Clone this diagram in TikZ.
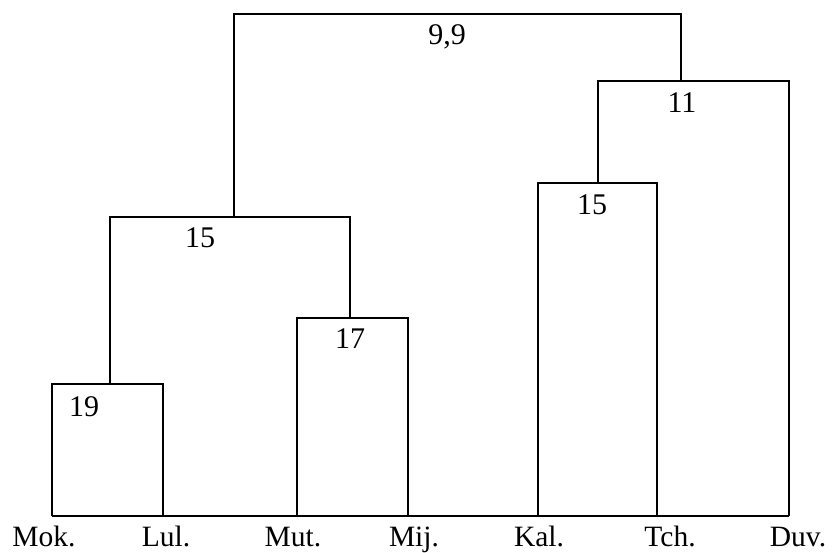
\documentclass[tikz,border=0pt]{standalone}
\usepackage{fontspec}
\setmainfont{Liberation Serif}
\begin{document}
\begin{tikzpicture}[x=1pt,y=-1pt,
  link/.style={line width=1.8pt,line join=miter},
  leaf/.style={font=\fontsize{29.5}{31}\selectfont,inner sep=0pt,anchor=base},
  level/.style={font=\fontsize{30}{32}\selectfont,inner sep=0pt,anchor=center}]
\useasboundingbox (0,0) rectangle (834,552);
% leaves on the base line
\coordinate (mok) at (52,516);
\coordinate (lul) at (163,516);
\coordinate (mut) at (297,516);
\coordinate (mij) at (408,516);
\coordinate (kal) at (538,516);
\coordinate (tch) at (657,516);
\coordinate (duv) at (789,516);
% joining points
\coordinate (j19) at (110,384);
\coordinate (j17) at (350,318);
\coordinate (j15a) at (234,217);
\coordinate (j15b) at (598,183);
\coordinate (j11) at (681,81);
\coordinate (j99) at (458,14);
% tree
\draw[link] (mok) -- (duv);
\draw[link] (mok) |- (j19) -| (lul);
\draw[link] (mut) |- (j17) -| (mij);
\draw[link] (j19) |- (j15a) -| (j17);
\draw[link] (kal) |- (j15b) -| (tch);
\draw[link] (j15b) |- (j11) -| (duv);
\draw[link] (j15a) |- (j99) -| (j11);
% level values
\node[level] (l19) at (84,407) {19};
\node[level] (l17) at (350,339) {17};
\node[level] (l15a) at (200,238) {15};
\node[level] (l15b) at (592,205) {15};
\node[level] (l11) at (682,103) {11};
\node[level] (l99) at (447,37) {9,9};
% leaf names
\node[leaf] (tmok) at (44,546) {Mok.};
\node[leaf] (tlul) at (166,546) {Lul.};
\node[leaf] (tmut) at (293,546) {Mut.};
\node[leaf] (tmij) at (414,546) {Mij.};
\node[leaf] (tkal) at (539,546) {Kal.};
\node[leaf] (ttch) at (670,546) {Tch.};
\node[leaf] (tduv) at (798,546) {Duv.};
\end{tikzpicture}
\end{document}
